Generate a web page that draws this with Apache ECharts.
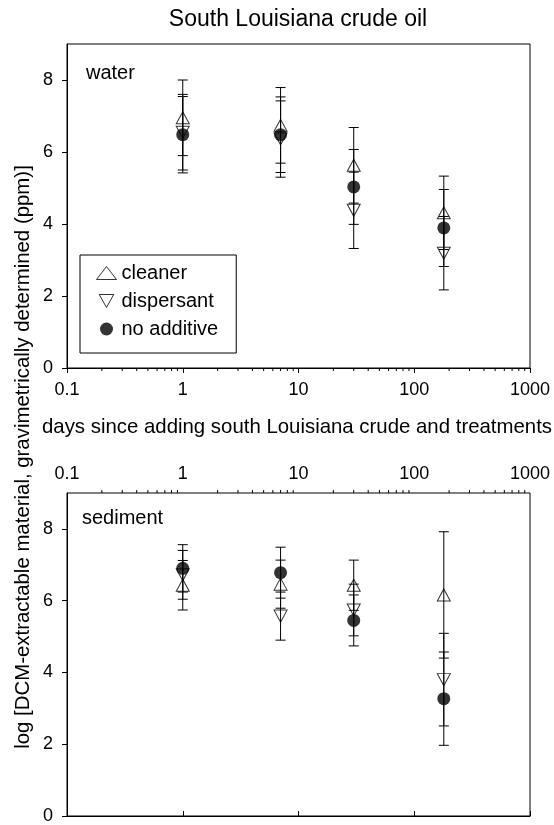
<!DOCTYPE html>
<html><head><meta charset="utf-8">
<script src="https://cdn.jsdelivr.net/npm/echarts@6/dist/echarts.min.js"></script>
<style>html,body{margin:0;padding:0;background:#fff}#c{width:554px;height:825px}</style>
</head><body><div id="c"></div>
<script>
// ---- data ----
const days = [1, 7, 30, 180];
const xTickLabels = ['0.1', '1', '10', '100', '1000'];
const yTickValues = [0, 2, 4, 6, 8];
const minorTickValues = [0.2,0.3,0.4,0.5,0.6,0.7,0.8,0.9, 2,3,4,5,6,7,8,9, 20,30,40,50,60,70,80,90, 200,300,400,500,600,700,800,900];

const waterCleaner = [6.95, 6.74, 5.63, 4.31];
const waterCleanerErr = [1.05, 1.05, 1.05, 1.02];
const waterDispersant = [6.55, 6.36, 4.38, 3.19];
const waterDispersantErr = [1.05, 1.06, 1.06, 1.02];
const waterNoAdditive = [6.48, 6.48, 5.03, 3.89];
const waterNoAdditiveErr = [1.06, 1.05, 1.04, 1.07];

const sedimentCleaner = [6.43, 6.46, 6.43, 6.16];
const sedimentCleanerErr = [0.69, 0.67, 0.70, 1.76];
const sedimentDispersant = [6.72, 5.57, 5.74, 3.80];
const sedimentDispersantErr = [0.68, 0.67, 0.72, 1.29];
const sedimentNoAdditive = [6.90, 6.78, 5.45, 3.27];
const sedimentNoAdditiveErr = [0.66, 0.71, 0.71, 1.30];

// ---- helpers ----
const FONT = 'Liberation Sans, Arial, Helvetica, sans-serif';
const downTri = 'path://M0,0L10,0L5,9Z';
const hollow = {color: 'rgba(0,0,0,0)', borderColor: '#000', borderWidth: 1};
const filled = {color: '#000', borderColor: '#000', borderWidth: 0};

function errSeries(vals, errs, gi) {
  return {
    type: 'custom', xAxisIndex: gi, yAxisIndex: gi, z: 2, silent: true,
    data: days.map((d, i) => [d, vals[i] - errs[i], vals[i] + errs[i]]),
    renderItem: function (params, api) {
      const x = api.value(0);
      const lo = api.coord([x, api.value(1)]);
      const hi = api.coord([x, api.value(2)]);
      const w = 5;
      const st = {stroke: '#000', lineWidth: 1};
      return {type: 'group', children: [
        {type: 'line', shape: {x1: lo[0], y1: lo[1], x2: hi[0], y2: hi[1]}, style: st},
        {type: 'line', shape: {x1: lo[0] - w, y1: lo[1], x2: lo[0] + w, y2: lo[1]}, style: st},
        {type: 'line', shape: {x1: hi[0] - w, y1: hi[1], x2: hi[0] + w, y2: hi[1]}, style: st}
      ]};
    }
  };
}
function pts(vals, gi, name, symbol, size, style) {
  return {
    type: 'scatter', name: name, xAxisIndex: gi, yAxisIndex: gi, z: 3,
    symbol: symbol, symbolSize: size, itemStyle: style,
    data: days.map((d, i) => [d, vals[i]])
  };
}
function minorTickSeries(gi, yVal, dir) {
  return {
    type: 'custom', xAxisIndex: gi, yAxisIndex: gi, z: 2, silent: true, clip: false,
    data: minorTickValues.map(v => [v, yVal]),
    renderItem: function (params, api) {
      const p = api.coord([api.value(0), api.value(1)]);
      return {type: 'line', shape: {x1: p[0], y1: p[1], x2: p[0], y2: p[1] + dir * 3},
        style: {stroke: '#000', lineWidth: 1}};
    }
  };
}
function xAx(gi, pos, margin) {
  return {
    type: 'log', logBase: 10, min: 0.1, max: 1000, gridIndex: gi, position: pos,
    axisLine: {show: true, lineStyle: {color: '#000', width: 1}},
    axisTick: {show: true, inside: false, length: 5, lineStyle: {color: '#000'}},
    axisLabel: {show: true, fontSize: 18, color: '#000', fontFamily: FONT, margin: margin,
      formatter: function (v) { const k = Math.round(Math.log10(v)) + 1; return xTickLabels[k] || ''; }},
    splitLine: {show: false}, minorTick: {show: false}
  };
}
function yAx(gi) {
  return {
    type: 'value', min: 0, max: 9, interval: 2, gridIndex: gi,
    axisLine: {show: true, lineStyle: {color: '#000', width: 1}},
    axisTick: {show: true, inside: false, length: 5, lineStyle: {color: '#000'}, customValues: yTickValues},
    axisLabel: {show: true, fontSize: 18, color: '#000', fontFamily: FONT, margin: 14, customValues: yTickValues},
    splitLine: {show: false}
  };
}
function label(text, x, y, size, align, rot) {
  return {type: 'text', x: x, y: y, rotation: rot || 0, silent: true,
    style: {text: text, fill: '#000', fontSize: size, fontFamily: FONT,
      font: size + 'px ' + FONT,
      align: align, textAlign: align, verticalAlign: 'middle', textVerticalAlign: 'middle'}};
}

const chart = echarts.init(document.getElementById('c'), null, {renderer: 'canvas'});
chart.setOption({
  animation: false,
  backgroundColor: '#fff',
  grid: [
    {left: 67, right: 24, top: 44, height: 324, show: true, borderColor: '#000', borderWidth: 1, backgroundColor: 'transparent'},
    {left: 67, right: 24, top: 493, height: 325, show: true, borderColor: '#000', borderWidth: 1, backgroundColor: 'transparent'}
  ],
  xAxis: [xAx(0, 'bottom', 13), xAx(1, 'top', 10)],
  yAxis: [yAx(0), yAx(1)],
  legend: {
    orient: 'vertical', left: 80, top: 255,
    padding: [8, 18, 14, 16], itemGap: 8, itemWidth: 20, itemHeight: 13,
    borderColor: '#000', borderWidth: 1, borderRadius: 0,
    textStyle: {fontSize: 20, color: '#000', fontFamily: FONT},
    selectedMode: false,
    data: [
      {name: 'cleaner', icon: 'triangle', itemStyle: hollow},
      {name: 'dispersant', icon: downTri, itemStyle: hollow},
      {name: 'no additive', icon: 'circle', itemStyle: filled}
    ]
  },
  graphic: [
    label('South Louisiana crude oil', 298, 20, 23, 'center'),
    label('days since adding south Louisiana crude and treatments', 297, 427, 20.4, 'center'),
    label('log [DCM-extractable material, gravimetrically determined (ppm)]', 23, 457, 20.4, 'center', Math.PI / 2),
    label('water', 86, 73, 20, 'left'),
    label('sediment', 82, 518, 20, 'left')
  ],
  series: [
    minorTickSeries(0, 0, 1),
    minorTickSeries(1, 9, -1),
    errSeries(waterCleaner, waterCleanerErr, 0),
    errSeries(waterDispersant, waterDispersantErr, 0),
    errSeries(waterNoAdditive, waterNoAdditiveErr, 0),
    errSeries(sedimentCleaner, sedimentCleanerErr, 1),
    errSeries(sedimentDispersant, sedimentDispersantErr, 1),
    errSeries(sedimentNoAdditive, sedimentNoAdditiveErr, 1),
    pts(waterCleaner, 0, 'cleaner', 'triangle', [13, 12], hollow),
    pts(waterDispersant, 0, 'dispersant', downTri, [13, 12], hollow),
    pts(waterNoAdditive, 0, 'no additive', 'circle', 13, filled),
    pts(sedimentCleaner, 1, 'cleaner', 'triangle', [13, 12], hollow),
    pts(sedimentDispersant, 1, 'dispersant', downTri, [13, 12], hollow),
    pts(sedimentNoAdditive, 1, 'no additive', 'circle', 13, filled)
  ]
});
</script>
</body></html>
